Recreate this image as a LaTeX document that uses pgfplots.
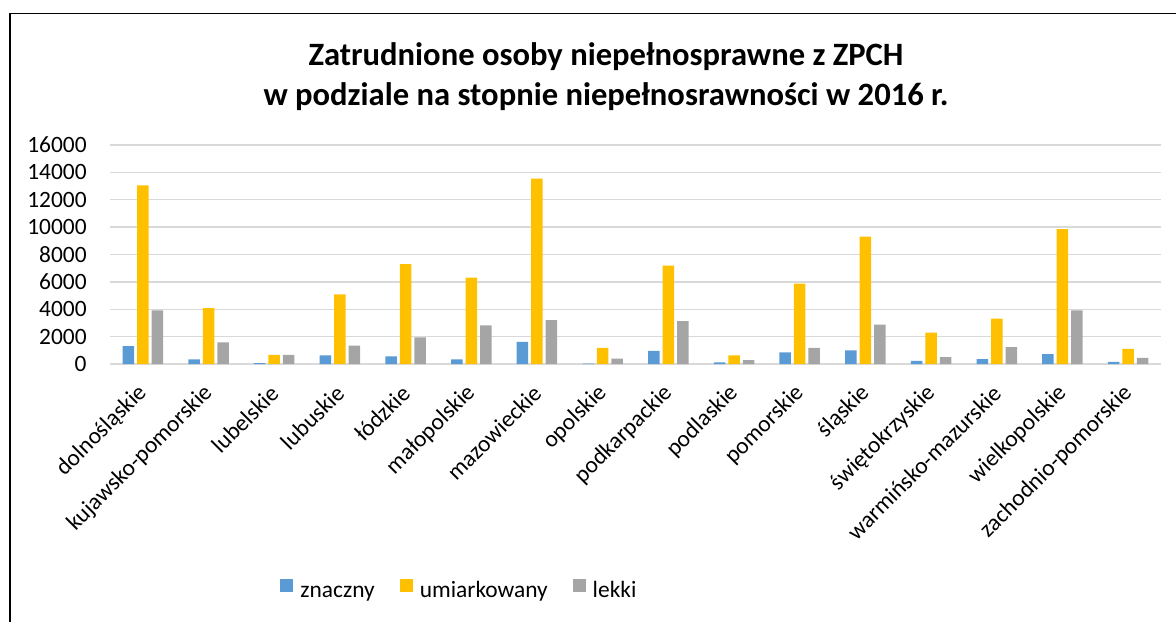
\documentclass[border=0pt]{standalone}
\usepackage{pgfplots}
\pgfplotsset{compat=1.18}
\usepackage{fontspec}
\setmainfont{Carlito}
\definecolor{cblue}{HTML}{5B9BD5}
\definecolor{cyellow}{HTML}{FFC000}
\definecolor{cgray}{HTML}{A5A5A5}
\definecolor{cgrid}{HTML}{D9D9D9}
\begin{document}
\begin{tikzpicture}
\useasboundingbox (0,0) rectangle (588pt,310.5pt);
\draw[black, line width=0.8pt] (5pt,-2pt) -- (5pt,303.75pt) -- (590pt,303.75pt);
\node[font=\fontsize{16.3}{20}\selectfont\bfseries, align=center, anchor=base, inner sep=0pt] at (303pt,257.5pt) {Zatrudnione osoby niepełnosprawne z ZPCH\\w podziale na stopnie niepełnosrawności w 2016 r.};
\begin{axis}[
  at={(55pt,128.5pt)}, anchor=south west,
  width=525.5pt, height=109.5pt, scale only axis,
  xmin=-0.5, xmax=15.5, ymin=0, ymax=16000,
  ytick={0,2000,...,16000},
  xtick={0,...,15},
  xticklabels={dolnośląskie,kujawsko-pomorskie,lubelskie,lubuskie,łódzkie,małopolskie,mazowieckie,opolskie,podkarpackie,podlaskie,pomorskie,śląskie,świętokrzyskie,warmińsko-mazurskie,wielkopolskie,zachodnio-pomorskie},
  /pgf/number format/assume math mode=true,
  scaled y ticks=false,
  yticklabel style={/pgf/number format/1000 sep={}, inner sep=0pt, xshift=-11.5pt, font=\fontsize{11.7}{13}\selectfont},
  xticklabel style={xshift=0.25pt, yshift=-12.6pt, rotate=45, anchor=east, inner sep=0pt, font=\fontsize{11.7}{13}\selectfont},
  major tick length=0pt,
  axis line style={draw=none},
  ymajorgrids, grid style={cgrid, line width=0.7pt},
  ybar=1.5pt, bar width=5.75pt,
  legend columns=3,
  legend style={at={(0.1618,-1.035)}, anchor=west, draw=none, inner sep=0pt, font=\fontsize{11.7}{13}\selectfont,
    nodes={inner sep=0pt, text height=8.5pt, text depth=2.5pt},
    /tikz/every odd column/.append style={column sep=3.5pt},
    /tikz/every even column/.append style={column sep=12.5pt}},
  legend image code/.code={\fill[#1] (0pt,0pt) rectangle (6.5pt,6.5pt);},
]
\addplot[fill=cblue, draw=none] coordinates {(0,1310) (1,340) (2,70) (3,630) (4,560) (5,340) (6,1610) (7,20) (8,950) (9,120) (10,850) (11,1000) (12,220) (13,360) (14,730) (15,150)};
\addplot[fill=cyellow, draw=none] coordinates {(0,13050) (1,4090) (2,660) (3,5090) (4,7300) (5,6310) (6,13540) (7,1170) (8,7190) (9,630) (10,5870) (11,9300) (12,2290) (13,3310) (14,9860) (15,1100)};
\addplot[fill=cgray, draw=none] coordinates {(0,3920) (1,1580) (2,660) (3,1340) (4,1950) (5,2830) (6,3210) (7,390) (8,3140) (9,290) (10,1170) (11,2870) (12,510) (13,1240) (14,3920) (15,440)};
\legend{znaczny,umiarkowany,lekki}
\end{axis}
\end{tikzpicture}
\end{document}
